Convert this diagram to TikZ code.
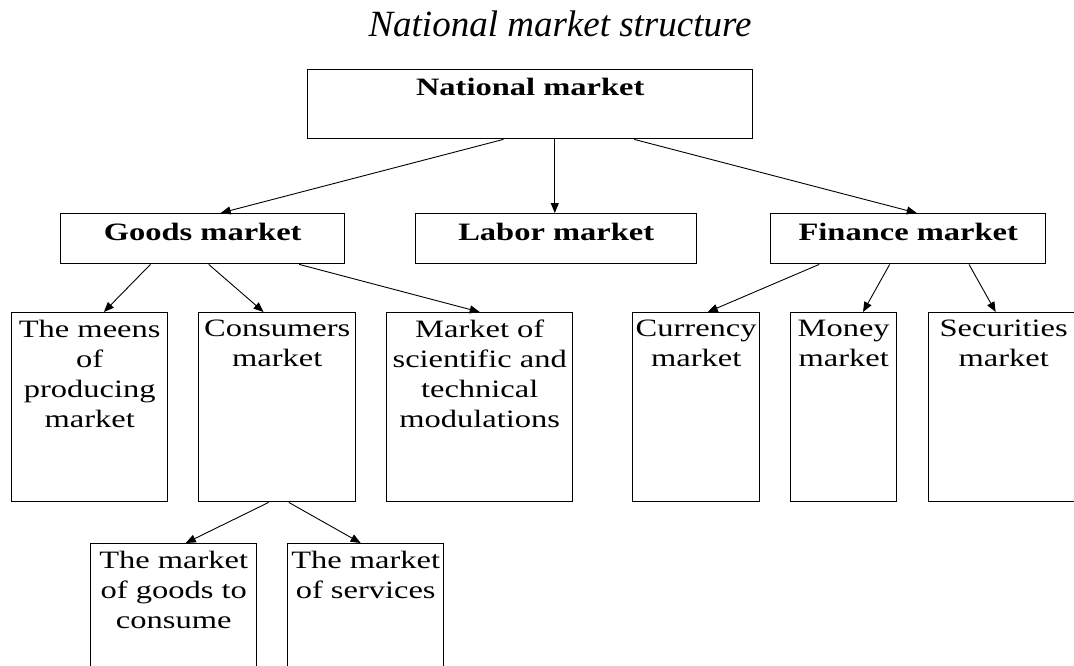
\documentclass[tikz,border=0pt]{standalone}
\usepackage{fontspec}
\setmainfont{Liberation Serif}
\newfontfamily\boxfont[FakeStretch=1.3]{Liberation Serif}
\usepackage{tikz}
\usetikzlibrary{calc, arrows.meta}

\begin{document}
\begin{tikzpicture}[
        x=1pt, y=-1pt,
        box/.style={draw, rectangle, line width=1.4pt, inner sep=0pt, anchor=north west},
        lbl/.style={anchor=north, align=center, inner sep=0pt, yshift=-7.5pt,
            font=\boxfont\fontsize{25}{30}\selectfont},
        head/.style={anchor=base, inner sep=0pt, yshift=-27pt,
            font=\boxfont\bfseries\fontsize{25}{30}\selectfont},
        link/.style={line width=0.9pt, -{Triangle[length=10pt, width=8pt]}}
    ]

        % Fix the page size
        \useasboundingbox (0,0) rectangle (1074,666);

        % Title
        \node[anchor=base, inner sep=0pt, font=\itshape\fontsize{37}{40}\selectfont] (title) at (560,37) {National market structure};

        % Top level
        \node[box, minimum width=445pt, minimum height=69pt, label={[head]north:National market}] (nat) at (307,69) {};

        % Second level
        \node[box, minimum width=284pt, minimum height=50pt, label={[head]north:Goods market}] (goods) at (60,213) {};
        \node[box, minimum width=281pt, minimum height=50pt, label={[head]north:Labor market}] (labor) at (415,213) {};
        \node[box, minimum width=275pt, minimum height=50pt, label={[head]north:Finance market}] (fin) at (770,213) {};

        % Third level
        \node[box, minimum width=156pt, minimum height=189pt, label={[lbl]north:The meens\\of\\producing\\market}] (means) at (11,312) {};
        \node[box, minimum width=157pt, minimum height=189pt, label={[lbl]north:Consumers\\market}] (cons) at (198,312) {};
        \node[box, minimum width=186pt, minimum height=189pt, label={[lbl]north:Market of\\scientific and\\technical\\modulations}] (sci) at (386,312) {};
        \node[box, minimum width=127pt, minimum height=189pt, label={[lbl]north:Currency\\market}] (curr) at (632,312) {};
        \node[box, minimum width=106pt, minimum height=189pt, label={[lbl]north:Money\\market}] (money) at (790,312) {};
        \node[box, minimum width=150pt, minimum height=189pt, label={[lbl]north:Securities\\market}] (secur) at (928,312) {};

        % Fourth level (runs off the page)
        \node[box, minimum width=166pt, minimum height=160pt, label={[lbl]north:The market\\of goods to\\consume}] (gcons) at (90,543) {};
        \node[box, minimum width=156pt, minimum height=160pt, label={[lbl]north:The market\\of services}] (serv) at (287,543) {};

        % Arrows from the national market
        \coordinate (lab-in) at ($(labor.north west)!0.495!(labor.north east)$);
        \draw[link] ($(nat.south west)!0.44!(nat.south east)$) -- ($(goods.north west)!0.563!(goods.north east)$);
        \draw[link] (lab-in |- nat.south) -- (lab-in);
        \draw[link] ($(nat.south west)!0.733!(nat.south east)$) -- ($(fin.north west)!0.531!(fin.north east)$);

        % Arrows from the goods market
        \draw[link] ($(goods.south west)!0.317!(goods.south east)$) -- ($(means.north west)!0.59!(means.north east)$);
        \draw[link] ($(goods.south west)!0.521!(goods.south east)$) -- ($(cons.north west)!0.414!(cons.north east)$);
        \draw[link] ($(goods.south west)!0.838!(goods.south east)$) -- ($(sci.north west)!0.5!(sci.north east)$);

        % Arrows from the finance market
        \draw[link] ($(fin.south west)!0.178!(fin.south east)$) -- ($(curr.north west)!0.59!(curr.north east)$);
        \draw[link] ($(fin.south west)!0.433!(fin.south east)$) -- ($(money.north west)!0.68!(money.north east)$);
        \draw[link] ($(fin.south west)!0.72!(fin.south east)$) -- ($(secur.north west)!0.447!(secur.north east)$);

        % Arrows from the consumers market
        \draw[link] ($(cons.south west)!0.446!(cons.south east)$) -- ($(gcons.north west)!0.572!(gcons.north east)$);
        \draw[link] ($(cons.south west)!0.573!(cons.south east)$) -- ($(serv.north west)!0.468!(serv.north east)$);

\end{tikzpicture}
\end{document}
